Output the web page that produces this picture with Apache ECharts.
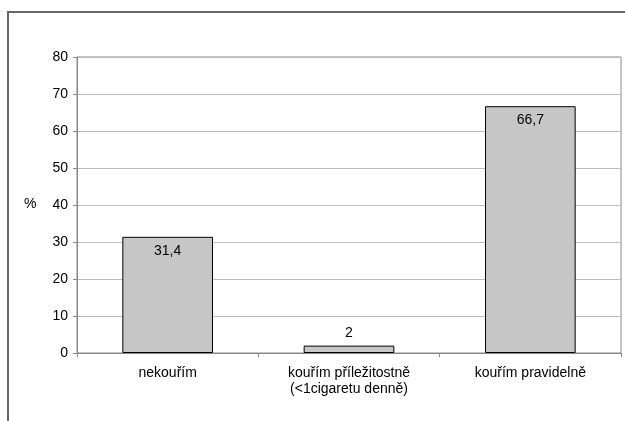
<!DOCTYPE html>
<html><head><meta charset="utf-8">
<script src="https://cdn.jsdelivr.net/npm/echarts@6/dist/echarts.min.js"></script>
<style>html,body{margin:0;padding:0;background:#fff}#c{width:625px;height:421px}</style>
</head><body><div id="c"></div>
<script>
const categories = ['nekouřím', 'kouřím příležitostně\n(<1cigaretu denně)', 'kouřím pravidelně'];
const values = [31.4, 2, 66.7];
const valueLabels = ['31,4', '2', '66,7'];
const yTicks = [0, 10, 20, 30, 40, 50, 60, 70, 80];

const chart = echarts.init(document.getElementById('c'), null, {renderer: 'canvas'});
const font = 'Liberation Sans, Arial, sans-serif';
chart.setOption({
  animation: false,
  graphic: [{
    type: 'rect', shape: {x: 8, y: 12, width: 640, height: 440},
    style: {fill: 'none', stroke: '#666', lineWidth: 2}, z: 0
  }, {
    type: 'text', left: 24, top: 197,
    style: {text: '%', font: '14px ' + font, fill: '#000'}
  }],
  grid: {left: 77, right: 4, top: 57, bottom: 68, show: true, borderColor: '#888', borderWidth: 1},
  xAxis: {
    type: 'category', data: categories,
    axisLine: {lineStyle: {color: '#888'}},
    axisTick: {show: true, alignWithLabel: false, length: 4, lineStyle: {color: '#888'}},
    axisLabel: {color: '#000', fontFamily: font, fontSize: 14, margin: 12, lineHeight: 16}
  },
  yAxis: {
    type: 'value', min: 0, max: 80, interval: 10,
    axisLine: {show: true, lineStyle: {color: '#888'}},
    axisTick: {show: true, length: 4, lineStyle: {color: '#888'}},
    splitLine: {lineStyle: {color: '#bdbdbd'}},
    axisLabel: {color: '#000', fontFamily: font, fontSize: 14, margin: 9,
      formatter: v => yTicks.includes(v) ? String(v) : ''}
  },
  series: [{
    type: 'bar', barWidth: '50%',
    data: values.map((v, i) => ({
      value: v,
      label: {position: v < 10 ? 'top' : 'insideTop', distance: v < 10 ? 5 : 7}
    })),
    itemStyle: {color: '#c6c6c6', borderColor: '#000', borderWidth: 1},
    label: {show: true, color: '#000', fontFamily: font, fontSize: 14,
      formatter: p => valueLabels[p.dataIndex]}
  }]
});
</script></body></html>
